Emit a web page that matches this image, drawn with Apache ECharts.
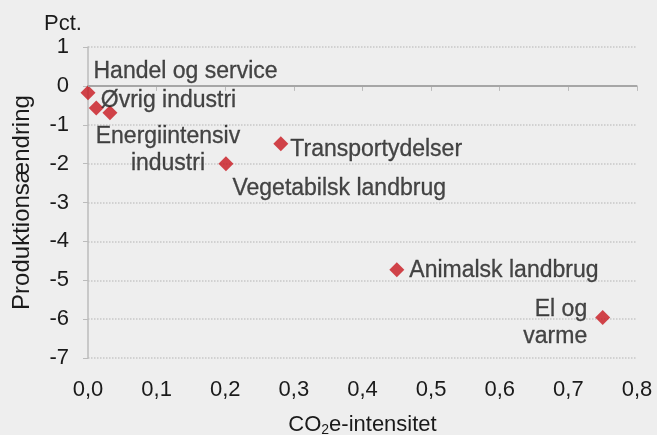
<!DOCTYPE html>
<html><head><meta charset="utf-8">
<script src="https://cdn.jsdelivr.net/npm/echarts@6/dist/echarts.min.js"></script>
<style>html,body{margin:0;padding:0;background:#eeeeee}#c{width:657px;height:435px}</style>
</head><body><div id="c"></div>
<script>
const sectors = ['Handel og service','Øvrig industri','Energiintensiv\nindustri','Vegetabilsk landbrug','Transportydelser','Animalsk landbrug','El og\nvarme'];
const intensity = [0.0, 0.012, 0.032, 0.201, 0.281, 0.45, 0.75];
const change = [-0.18, -0.57, -0.69, -2.0, -1.49, -4.73, -5.96];
const xTicks = [0, 0.1, 0.2, 0.3, 0.4, 0.5, 0.6, 0.7, 0.8];
const yTicks = [-7, -6, -5, -4, -3, -2, -1, 0, 1];

const labelCfg = [
  {position:'right', offset:[-7,-21]},
  {position:'right', offset:[-8,-7]},
  {position:'bottom', offset:[58,-2], align:'center'},
  {position:'right', offset:[-6,25]},
  {position:'right', offset:[-3,6]},
  {position:'right', offset:[0,1]},
  {position:'left', offset:[-3,6], align:'right'}
];
const font = 'Liberation Sans, Arial, sans-serif';
const txt = '#1a1a1a';
const data = sectors.map((n,i)=>({
  value:[intensity[i], change[i]], name:n,
  label:Object.assign({show:true, formatter:'{b}', color:txt, fontSize:23, fontFamily:font, lineHeight:27, textBorderColor:txt, textBorderWidth:0.3}, labelCfg[i])
}));
const chart = echarts.init(document.getElementById('c'));
chart.setOption({
  backgroundColor:'#eeeeee',
  animation:false,
  title:{text:'Pct.', left:39, top:8, textStyle:{fontSize:22, fontWeight:'normal', color:txt, fontFamily:font}},
  grid:{left:88, right:20, top:47, bottom:77, containLabel:false, outerBoundsMode:'none'},
  xAxis:{type:'value', min:xTicks[0], max:xTicks[xTicks.length-1], interval:0.1,
    name:'{a|CO}{s|2}{a|e-intensitet}', nameLocation:'middle', nameGap:55,
    nameTextStyle:{rich:{a:{fontSize:22, color:txt, fontFamily:font}, s:{fontSize:14, color:txt, fontFamily:font, verticalAlign:'bottom', padding:[10,0,0,0]}}},
    axisLine:{lineStyle:{color:'#bbbbbb', width:1.5}},
    axisTick:{show:true, inside:false, length:5, lineStyle:{color:'#bbbbbb'}},
    axisLabel:{formatter:v=>v.toFixed(1).replace('.',','), fontSize:22, color:txt, fontFamily:font, margin:21},
    splitLine:{show:false}},
  yAxis:{type:'value', min:yTicks[0], max:yTicks[yTicks.length-1], interval:1,
    name:'Produktionsændring', nameLocation:'middle', nameGap:54, nameRotate:90,
    nameTextStyle:{fontSize:24, color:txt, fontFamily:font},
    axisLine:{show:true, lineStyle:{color:'#bbbbbb', width:1.5}},
    axisTick:{show:true, length:5, lineStyle:{color:'#bbbbbb'}},
    axisLabel:{fontSize:22, color:txt, fontFamily:font, margin:19},
    splitLine:{show:true, lineStyle:{color:'#c8c8c8', type:'dotted', width:1.5}}},
  series:[{type:'scatter', symbol:'diamond', symbolSize:15,
    itemStyle:{color:'#c8161e'},
    data:data,
    markLine:{silent:true, symbol:'none', label:{show:false}, lineStyle:{color:'#a6a6a6', type:'solid', width:2},
      data:[{yAxis:0}]}
  }]
});
</script></body></html>
